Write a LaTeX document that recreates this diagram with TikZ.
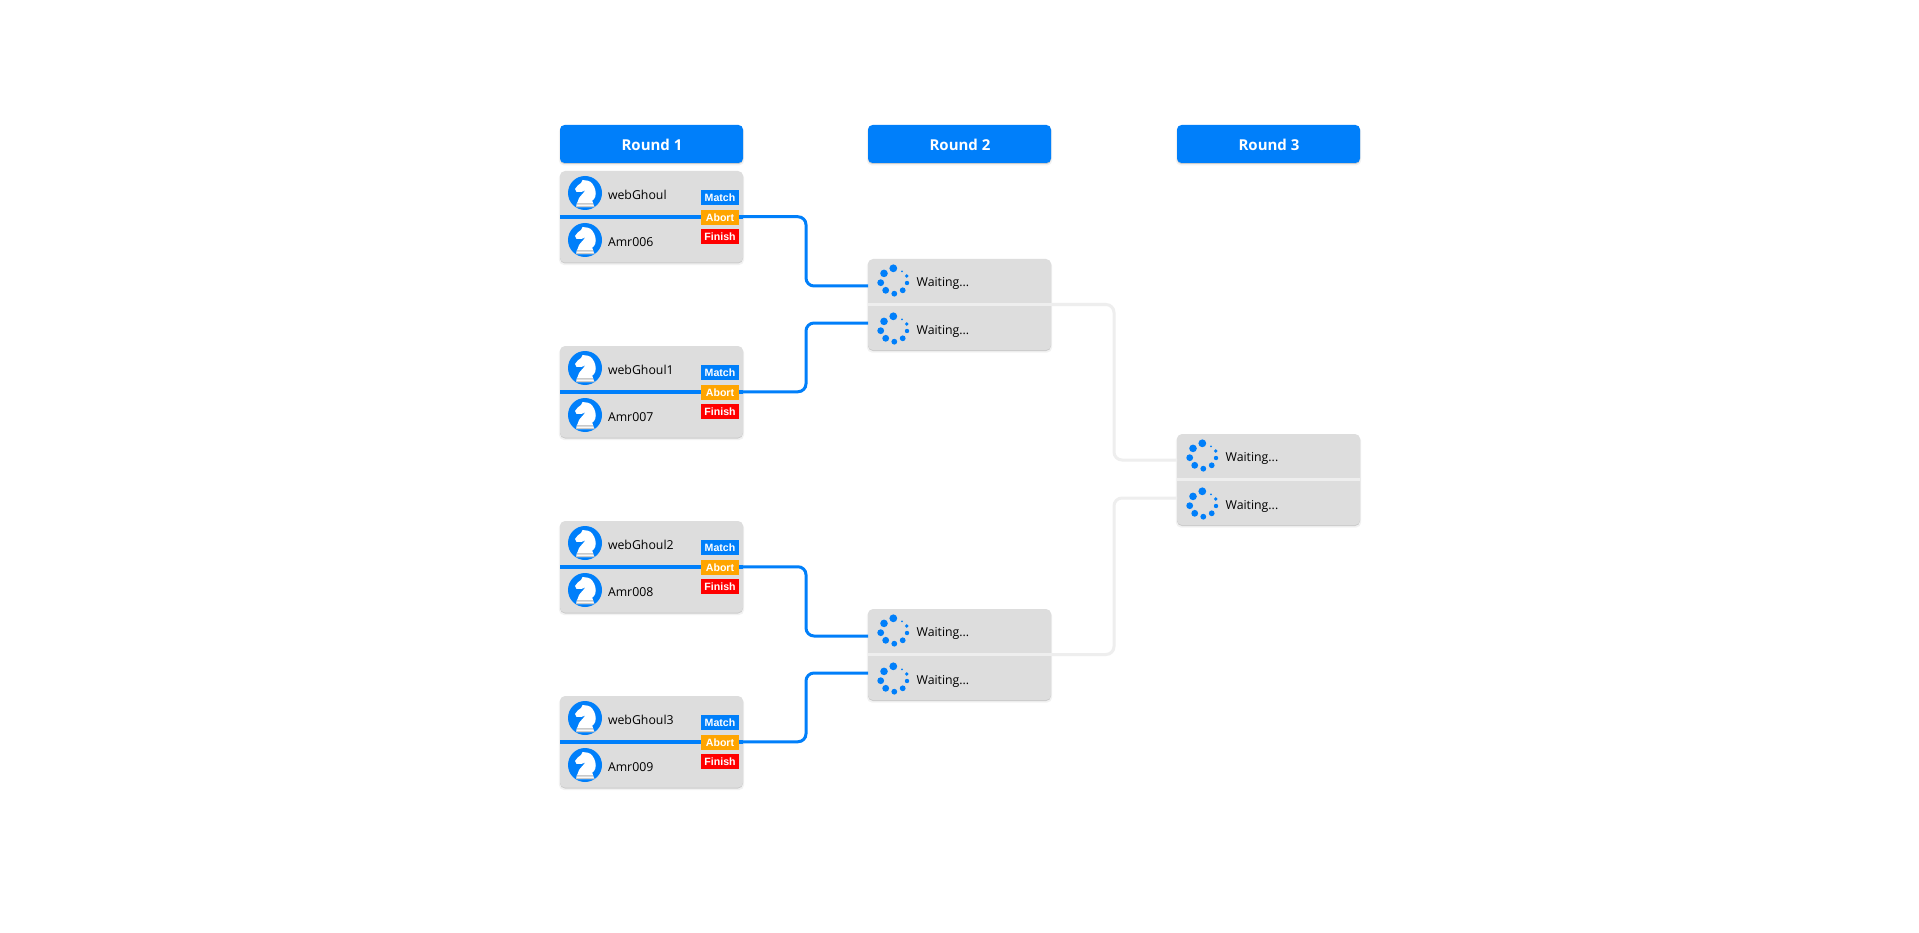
\documentclass[tikz,border=0pt]{standalone}
\usepackage{fontspec}
\setmainfont{Open Sans}
\newfontfamily\btnfont{Liberation Sans}
\usetikzlibrary{shadows,calc}
\definecolor{brandblue}{HTML}{007FFA}
\definecolor{cardgray}{HTML}{DDDDDD}
\definecolor{idleline}{HTML}{EEEEEE}
\definecolor{baseshade}{HTML}{C9C9C9}
\definecolor{abortorange}{HTML}{FFA500}
\tikzset{
  x=1pt,y=-1pt,
  softshadow/.style={
    general shadow={shadow yshift=-2pt,shadow scale=1.012,fill=black,opacity=0.05},
    general shadow={shadow yshift=-1pt,fill=black,opacity=0.16}},
  header/.style={rectangle,rounded corners=4.5pt,fill=brandblue,minimum width=183pt,minimum height=38pt,
    inner sep=0pt,outer sep=0pt,anchor=north west,softshadow},
  headtext/.style={anchor=base,inner sep=0pt,outer sep=0pt,text=white,font=\fontsize{15}{18}\selectfont\bfseries},
  card/.style={rectangle,rounded corners=5pt,fill=cardgray,minimum width=183pt,minimum height=91.5pt,
    inner sep=0pt,outer sep=0pt,anchor=north west,softshadow},
  barline/.style={rectangle,minimum width=183pt,inner sep=0pt,outer sep=0pt,anchor=west},
  who/.style={anchor=base west,inner sep=0pt,outer sep=0pt,text=black,font=\fontsize{12.3}{14}\selectfont},
  btn/.style={rectangle,minimum width=38pt,minimum height=15pt,inner sep=0pt,outer sep=0pt,anchor=north west,
    text=white,font=\btnfont\fontsize{10.6}{12}\selectfont\bfseries},
  avatar/.style={circle,fill=brandblue,minimum size=34pt,inner sep=0pt,outer sep=0pt},
  live/.style={draw=brandblue,line width=3pt,rounded corners=8pt},
  idle/.style={draw=idleline,line width=3pt,rounded corners=8pt},
}
\newcommand{\knightat}[1]{%
  \begin{scope}[shift={(#1)}]
    \fill[white] (-2.5,-13) .. controls (1,-12.8) and (5,-12.5) .. (7.2,-9.5)
      .. controls (10.2,-5.5) and (11.6,-0.5) .. (10.2,4)
      .. controls (9.5,6) and (8,7) .. (7.2,7.5)
      -- (8.3,11) -- (9.4,14.2) -- (-9,14.2) -- (-8.3,11) -- (-6.9,7.5)
      .. controls (-6.4,4) and (-2.4,1.5) .. (0.6,-3)
      .. controls (-2.4,-0.7) and (-5.8,-0.6) .. (-8.6,-1.2)
      -- (-10,-4) .. controls (-8.3,-7) and (-6.2,-8.6) .. (-4,-10) -- cycle;
    \fill[baseshade] (-8.1,10.2) -- (8,10.2) -- (8.4,11.6) -- (-8.5,11.6) -- cycle;
    \fill[baseshade] (-9,12.9) -- (9,12.9) -- (9.4,14.2) -- (-9,14.2) -- cycle;
  \end{scope}}
\newcommand{\spinnerat}[1]{%
  \begin{scope}[shift={(#1)}]
    \fill[brandblue]
      (-0.7,-12.7) circle[radius=3.9]
      (-10,-7.6) circle[radius=3.8]
      (-13.3,1.7) circle[radius=3.4]
      (-8.3,9.3) circle[radius=3.4]
      (0.3,12.7) circle[radius=2.9]
      (8.7,9.3) circle[radius=2.9]
      (13,2) circle[radius=2.2]
      (12.7,-5) circle[radius=1.8]
      (8,-9.7) circle[radius=1];
  \end{scope}}
\begin{document}
\begin{tikzpicture}
\useasboundingbox[fill=white] (0,0) rectangle (1919,933);
% headers
\node[header] (h1) at (560,125) {};
\node[headtext] (h1t) at (652,151) {Round 1};
\node[header] (h2) at (868,125) {};
\node[headtext] (h2t) at (960,151) {Round 2};
\node[header] (h3) at (1177,125) {};
\node[headtext] (h3t) at (1269,151) {Round 3};
% first round cards
\foreach \i/\t/\a/\b in {1/171/webGhoul/Amr006,2/346/webGhoul1/Amr007,3/521/webGhoul2/Amr008,4/696/webGhoul3/Amr009}{
  \node[card] (c\i) at (560,\t) {};
  \node[barline,fill=brandblue,minimum height=4pt] (cb\i) at (c\i.west) {};
  \node[avatar] (pa\i) at (585,\t+22) {};
  \knightat{585,\t+22}
  \node[avatar] (pb\i) at (585,\t+69) {};
  \knightat{585,\t+69}
  \node[who] (na\i) at (608,\t+28.7) {\a};
  \node[who] (nb\i) at (608,\t+75.7) {\b};
  \node[btn,fill=brandblue] (bm\i) at (701,\t+19) {Match};
  \node[btn,fill=abortorange] (ba\i) at (701,\t+39) {Abort};
  \node[btn,fill=red] (bf\i) at (701,\t+58) {Finish};
}
% waiting cards
\foreach \k/\x/\t in {m1/868/259,m2/868/609,f1/1177/434}{
  \node[card,minimum height=91pt] (\k) at (\x,\t) {};
  \node[barline,fill=idleline,minimum height=3.5pt] (\k bar) at (\k.west) {};
  \spinnerat{\x+26,\t+22}
  \spinnerat{\x+26,\t+70}
  \node[who] (\k a) at (\x+48.6,\t+27.3) {Waiting...};
  \node[who] (\k b) at (\x+48.6,\t+75.3) {Waiting...};
}
% bends
\coordinate (v1) at (806,251);
\coordinate (v2) at (806,357);
\coordinate (v3) at (806,601);
\coordinate (v4) at (806,707);
\coordinate (v5) at (1114,382);
\coordinate (v6) at (1114,576);
% connectors
\draw[live] (c1.east) -| (v1) |- ([yshift=18.5pt]m1.west);
\draw[live] (c2.east) -| (v2) |- ([yshift=-18.5pt]m1.west);
\draw[live] (c3.east) -| (v3) |- ([yshift=18.5pt]m2.west);
\draw[live] (c4.east) -| (v4) |- ([yshift=-18.5pt]m2.west);
\draw[idle] (m1.east) -| (v5) |- ([yshift=19.5pt]f1.west);
\draw[idle] (m2.east) -| (v6) |- ([yshift=-18.5pt]f1.west);
\end{tikzpicture}
\end{document}
